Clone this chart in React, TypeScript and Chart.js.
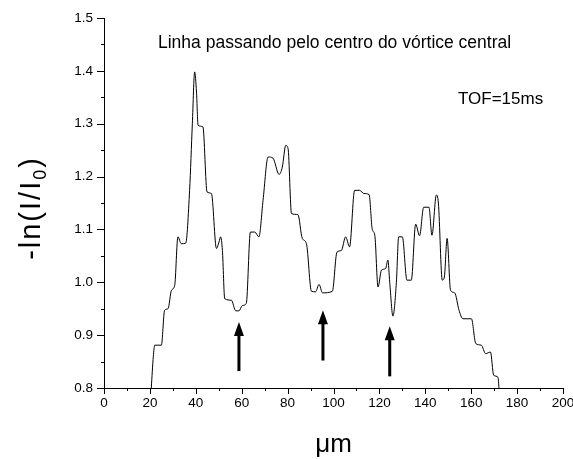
import React, { useEffect, useRef } from "react";
import { Chart, registerables } from "chart.js";

Chart.register(...registerables);

// Profile data (µm, -ln(I/I0))
const xValues = [
  20.6, 21.5, 22.1, 25.0, 26.4, 27.9, 29.4, 30.8, 32.2, 33.7, 35.6, 37.3, 38.5, 39.5, 40.3, 41.0,
  43.1, 44.9, 46.8, 49.0, 50.1, 50.8, 51.6, 52.6, 55.5, 57.4, 58.8, 60.3, 62.0, 63.8, 65.7, 67.5,
  69.3, 71.5, 73.6, 76.3, 77.7, 79.2, 80.2, 81.7, 84.5, 86.4, 88.2, 90.4, 92.2, 93.7, 95.2, 99.5,
  101.5, 103.4, 105.3, 107.0, 109.2, 111.4, 113.2, 115.5, 116.9, 118.0, 119.4, 120.9, 122.7, 123.7,
  124.5, 125.9, 127.4, 128.4, 130.0, 132.0, 133.9, 135.8, 137.5, 139.3, 141.6, 142.9, 144.8, 145.7,
  147.4, 148.3, 149.5, 151.0, 152.8, 154.7, 156.4, 160.1, 162.0, 164.4, 166.3, 168.4, 169.8, 171.7,
  172.1,
];
const yValues = [
  0.8, 0.86, 0.881, 0.881, 0.947, 0.95, 0.985, 0.994, 1.086, 1.073, 1.074, 1.174, 1.3, 1.398, 1.36, 1.297,
  1.294, 1.171, 1.168, 1.064, 1.076, 1.086, 1.06, 0.969, 0.966, 0.946, 0.946, 0.956, 0.96, 1.095, 1.095, 1.086,
  1.155, 1.237, 1.235, 1.204, 1.218, 1.259, 1.253, 1.13, 1.128, 1.083, 1.073, 0.983, 0.982, 0.996, 0.98, 0.983,
  1.057, 1.06, 1.086, 1.067, 1.174, 1.174, 1.168, 1.166, 1.1, 1.089, 0.991, 1.023, 1.026, 1.042,
  1.0, 0.936, 1.0, 1.086, 1.086, 1.004, 1.004, 1.11, 1.088, 1.142, 1.142, 1.089, 1.165, 1.15,
  1.004, 1.01, 1.083, 0.985, 0.98, 0.947, 0.931, 0.931, 0.884, 0.881, 0.865, 0.868, 0.824, 0.82,
  0.8,
];

// Arrows marking the vortex positions
const arrowX = [58.8, 95.4, 124.5];
const arrowTop = [0.925, 0.947, 0.917];
const arrowBottom = [0.832, 0.852, 0.822];

// Axis ticks
const xMajorTicks = [0, 20, 40, 60, 80, 100, 120, 140, 160, 180, 200];
const xMinorTicks = [10, 30, 50, 70, 90, 110, 130, 150, 170, 190];
const yMajorTicks = [0.8, 0.9, 1.0, 1.1, 1.2, 1.3, 1.4, 1.5];
const yMinorTicks = [0.85, 0.95, 1.05, 1.15, 1.25, 1.35, 1.45];

const titleText = "Linha passando pelo centro do vórtice central";
const tofText = "TOF=15ms";
const xTitle = "μm";
const yTitleMain = "-ln(I/I";
const yTitleSub = "0";
const yTitleEnd = ")";

const FONT = "'Liberation Sans', Arial, sans-serif";

const decorPlugin = {
  id: "decor",
  afterDraw(chart: any) {
    const ctx = chart.ctx;
    const xs = chart.scales.x;
    const ys = chart.scales.y;
    const area = chart.chartArea;
    ctx.save();
    ctx.strokeStyle = "#000";
    ctx.fillStyle = "#000";
    ctx.lineWidth = 1;
    // ticks
    const drawX = (vals: number[], len: number) => {
      vals.forEach((v) => {
        const px = Math.round(xs.getPixelForValue(v)) + 0.5;
        ctx.beginPath();
        ctx.moveTo(px, area.bottom);
        ctx.lineTo(px, area.bottom + len);
        ctx.stroke();
      });
    };
    const drawY = (vals: number[], len: number) => {
      vals.forEach((v) => {
        const py = Math.round(ys.getPixelForValue(v)) + 0.5;
        ctx.beginPath();
        ctx.moveTo(area.left, py);
        ctx.lineTo(area.left - len, py);
        ctx.stroke();
      });
    };
    drawX(xMajorTicks, 6);
    drawX(xMinorTicks, 3);
    drawY(yMajorTicks, 7);
    drawY(yMinorTicks, 3);

    // arrows
    arrowX.forEach((v, i) => {
      const px = xs.getPixelForValue(v);
      const pt = ys.getPixelForValue(arrowTop[i]);
      const pb = ys.getPixelForValue(arrowBottom[i]);
      ctx.lineWidth = 3;
      ctx.beginPath();
      ctx.moveTo(px, pb);
      ctx.lineTo(px, pt + 10);
      ctx.stroke();
      ctx.beginPath();
      ctx.moveTo(px, pt);
      ctx.lineTo(px - 5, pt + 14);
      ctx.lineTo(px + 5, pt + 14);
      ctx.closePath();
      ctx.fill();
    });

    // texts
    ctx.textBaseline = "alphabetic";
    ctx.textAlign = "left";
    ctx.font = `17.5px ${FONT}`;
    ctx.fillText(titleText, 158, 47.5);
    ctx.font = `17px ${FONT}`;
    ctx.fillText(tofText, 458, 103.5);

    ctx.font = `26px ${FONT}`;
    ctx.textAlign = "center";
    ctx.fillText(xTitle, (area.left + area.right) / 2, 451.5);

    // y title rotated
    ctx.translate(39.5, (area.top + area.bottom) / 2 + 5);
    ctx.rotate(-Math.PI / 2);
    ctx.textAlign = "left";
    ctx.font = `29px ${FONT}`;
    (ctx as any).letterSpacing = "2px";
    const w1 = ctx.measureText(yTitleMain).width;
    ctx.font = `18px ${FONT}`;
    const w2 = ctx.measureText(yTitleSub).width;
    ctx.font = `29px ${FONT}`;
    const w3 = ctx.measureText(yTitleEnd).width;
    const total = w1 + w2 + w3;
    let x0 = -total / 2;
    ctx.fillText(yTitleMain, x0, 0);
    x0 += w1;
    ctx.font = `18px ${FONT}`;
    ctx.fillText(yTitleSub, x0, 6);
    x0 += w2;
    ctx.font = `29px ${FONT}`;
    ctx.fillText(yTitleEnd, x0, 0);
    ctx.restore();
  },
};

export default function App() {
  const canvasRef = useRef<HTMLCanvasElement | null>(null);

  useEffect(() => {
    if (!canvasRef.current) return;
    const points = xValues.map((x, i) => ({ x, y: yValues[i] }));
    const chart = new Chart(canvasRef.current, {
      type: "line",
      data: {
        datasets: [
          {
            data: points,
            borderColor: "#000",
            borderWidth: 1,
            pointRadius: 0,
            fill: false,
            cubicInterpolationMode: "monotone",
          },
        ],
      },
      options: {
        responsive: false,
        animation: false,
        events: [],
        layout: { padding: { top: 18, right: 10, left: 0, bottom: 0 } },
        plugins: { legend: { display: false }, tooltip: { enabled: false }, title: { display: false } },
        scales: {
          x: {
            type: "linear",
            min: 0,
            max: 200,
            afterBuildTicks: (scale: any) => {
              scale.ticks = xMajorTicks.map((v) => ({ value: v }));
            },
            ticks: {
              color: "#000",
              font: { family: FONT, size: 13.5 },
              padding: 7,
              maxRotation: 0,
              autoSkip: false,
            },
            grid: { display: true, drawOnChartArea: false, drawTicks: false },
            border: { display: true, color: "#000", width: 1 },
            afterFit: (scale: any) => {
              scale.height = 71;
              scale.paddingLeft = 0;
              scale.paddingRight = 0;
            },
          },
          y: {
            type: "linear",
            min: 0.8,
            max: 1.5,
            afterBuildTicks: (scale: any) => {
              scale.ticks = yMajorTicks.map((v) => ({ value: v }));
            },
            ticks: {
              color: "#000",
              font: { family: FONT, size: 13.5 },
              padding: 11,
              autoSkip: false,
              callback: (v: any) => Number(v).toFixed(1),
            },
            grid: { display: true, drawOnChartArea: false, drawTicks: false },
            border: { display: true, color: "#000", width: 1 },
            afterFit: (scale: any) => {
              scale.width = 104;
              scale.paddingTop = 0;
              scale.paddingBottom = 0;
            },
          },
        },
      },
      plugins: [decorPlugin],
    } as any);
    return () => chart.destroy();
  }, []);

  return (
    <canvas
      ref={canvasRef}
      width={573}
      height={459}
      style={{ position: "absolute", left: 0, top: 0, display: "block", background: "#fff" }}
    />
  );
}
